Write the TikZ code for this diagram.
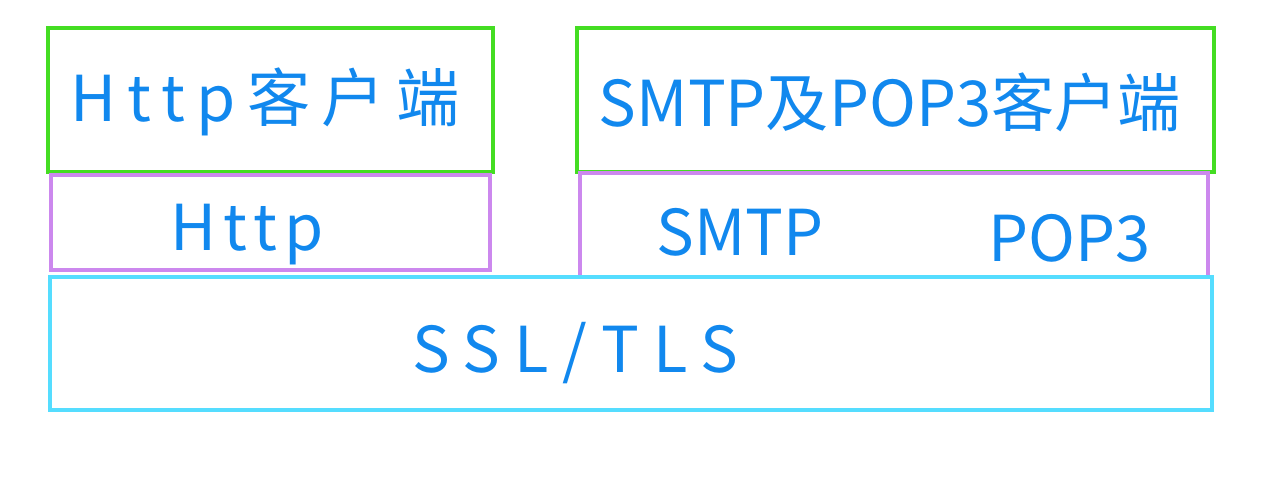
\documentclass[tikz,border=0pt]{standalone}
\usepackage{fontspec}
\setmainfont{Noto Sans CJK SC}
\usepackage{tikz}
\definecolor{boxgreen}{HTML}{44DD22}
\definecolor{boxpurple}{HTML}{CC88EE}
\definecolor{boxcyan}{HTML}{55DDFF}
\definecolor{penblue}{HTML}{1188EE}
\tikzset{label text/.style={text=penblue, font=\fontsize{36}{40}\selectfont, inner sep=0pt},
	wide text/.style={label text, font=\fontsize{36}{40}\selectfont\addfontfeatures{LetterSpace=#1}}}
\begin{document}
\begin{tikzpicture}[x=0.02cm, y=-0.02cm]
		%%%%% START %%%%%
		\useasboundingbox (0, 0) rectangle (1280, 477);
		
		% client row
		\draw[line width=0.8mm, color=boxgreen] (48, 28) rectangle (493, 172);
		\draw[line width=0.8mm, color=boxgreen] (577, 28) rectangle (1214, 172);
		\node[wide text=18] (httpclient) at (265, 102) {Http客户端};
		\node[label text] (mailclient) at (890, 102) {SMTP及POP3客户端};
		
		% protocol row
		\draw[line width=0.7mm, color=boxpurple] (51, 175) rectangle (490, 270);
		\draw[line width=0.7mm, color=boxpurple] (580, 173) rectangle (1208, 277);
		\node[wide text=11] (http) at (247, 235) {Http};
		\node[label text] (smtp) at (740, 232) {SMTP};
		\node[label text] (pop) at (1070, 238) {POP3};
		
		% secure layer
		\draw[line width=0.7mm, color=boxcyan] (50, 277) rectangle (1212, 410);
		\node[wide text=22] (ssl) at (575, 353) {SSL/TLS};
		
		%%%%% END %%%%%
	\end{tikzpicture}
\end{document}
